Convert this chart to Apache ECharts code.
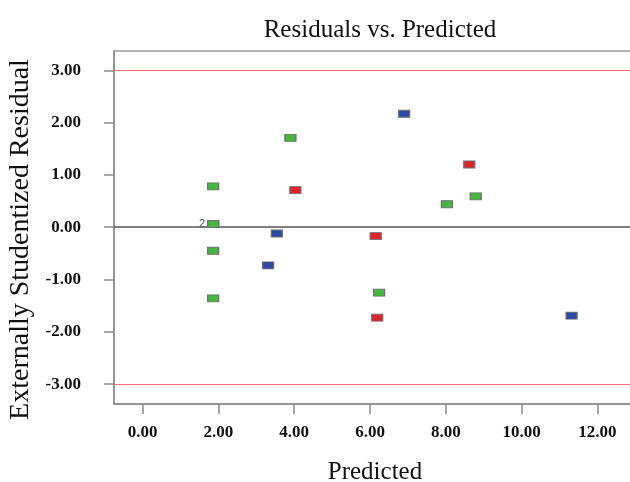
<!DOCTYPE html>
<html>
<head>
<meta charset="utf-8">
<script src="https://cdn.jsdelivr.net/npm/echarts@6/dist/echarts.min.js"></script>
<style>html,body{margin:0;padding:0;background:#fff}#c{width:630px;height:482px}</style>
</head>
<body>
<div id="c"></div>
<script>
// Data
const titleText = 'Residuals vs. Predicted';
const xName = 'Predicted';
const yName = 'Externally Studentized Residual';
const xTicks = [0, 2, 4, 6, 8, 10, 12];
const yTicks = [-3, -2, -1, 0, 1, 2, 3];
const limitLines = [3, -3];
const zeroLine = 0;
const greenPoints = [[3.90, 1.71], [1.86, 0.78], [8.79, 0.59], [8.03, 0.44], [1.86, 0.06], [1.86, 0.06], [1.86, -0.45], [1.86, -1.36], [6.24, -1.25]];
const bluePoints = [[6.90, 2.17], [3.54, -0.12], [3.31, -0.73], [11.32, -1.69]];
const redPoints = [[8.62, 1.20], [4.03, 0.71], [6.15, -0.17], [6.19, -1.73]];
const countLabelPoint = [1.86, 0.06];
const countLabelText = '2';

const serif = '"Liberation Serif", "Times New Roman", serif';

let labelDone = false;
function pts(arr) {
  return arr.map(function (p) {
    const d = { value: p };
    if (!labelDone && p[0] === countLabelPoint[0] && p[1] === countLabelPoint[1]) {
      labelDone = true;
      d.label = { show: true, position: 'left', distance: 2, formatter: countLabelText, color: '#555', fontSize: 11, fontFamily: 'Arial, sans-serif' };
    }
    return d;
  });
}

function scatter(name, data, color, extra) {
  const s = {
    name: name,
    type: 'scatter',
    symbol: 'rect',
    symbolSize: [11, 7],
    itemStyle: { color: color, borderColor: '#6e6e6e', borderWidth: 1, opacity: 1 },
    data: pts(data),
    z: 5
  };
  return Object.assign(s, extra || {});
}

const chart = echarts.init(document.getElementById('c'));
chart.setOption({
  animation: false,
  backgroundColor: '#fff',
  title: {
    text: titleText,
    left: 375, top: 13, textAlign: 'center',
    textStyle: { fontFamily: serif, fontWeight: 'normal', fontSize: 25, color: '#111' }
  },
  grid: {
    left: 114, right: -6, top: 51, bottom: 78,
    outerBoundsMode: 'none', containLabel: false,
    show: true, borderColor: '#9a9a9a', borderWidth: 1.5, backgroundColor: '#fff'
  },
  xAxis: {
    type: 'value', min: -0.757, max: 13.02,
    name: xName, nameLocation: 'middle', nameGap: 56,
    nameTextStyle: { fontFamily: serif, fontSize: 25, color: '#111' },
    axisLine: { show: true, onZero: false, lineStyle: { color: '#8a8a8a', width: 1.5 } },
    axisTick: { show: true, length: 10, customValues: xTicks, lineStyle: { color: '#8a8a8a', width: 1.5 } },
    axisLabel: {
      customValues: xTicks, margin: 20,
      formatter: function (v) { return v.toFixed(2); },
      fontFamily: serif, fontWeight: 'bold', fontSize: 17, color: '#111'
    },
    splitLine: { show: false }
  },
  yAxis: {
    type: 'value', min: -3.38, max: 3.37,
    name: yName, nameLocation: 'middle', nameGap: 78, nameRotate: 90,
    nameTextStyle: { fontFamily: serif, fontSize: 28, color: '#111', padding: [0, 24, 0, 0] },
    axisLine: { show: true, onZero: false, lineStyle: { color: '#8a8a8a', width: 1.5 } },
    axisTick: { show: true, length: 10, customValues: yTicks, lineStyle: { color: '#8a8a8a', width: 1.5 } },
    axisLabel: {
      customValues: yTicks, margin: 33,
      formatter: function (v) { return v.toFixed(2); },
      fontFamily: serif, fontWeight: 'bold', fontSize: 17, color: '#111'
    },
    splitLine: { show: false }
  },
  series: [
    scatter('green', greenPoints, '#45b640', {
      markLine: {
        silent: true, symbol: 'none', label: { show: false },
        data: limitLines.map(function (v) { return { yAxis: v, lineStyle: { color: '#f07070', width: 1.2, type: 'solid' } }; })
          .concat([{ yAxis: zeroLine, lineStyle: { color: '#555', width: 1.5, type: 'solid' } }])
      }
    }),
    scatter('blue', bluePoints, '#2c4aa4'),
    scatter('red', redPoints, '#e0222a')
  ]
});
</script>
</body>
</html>
